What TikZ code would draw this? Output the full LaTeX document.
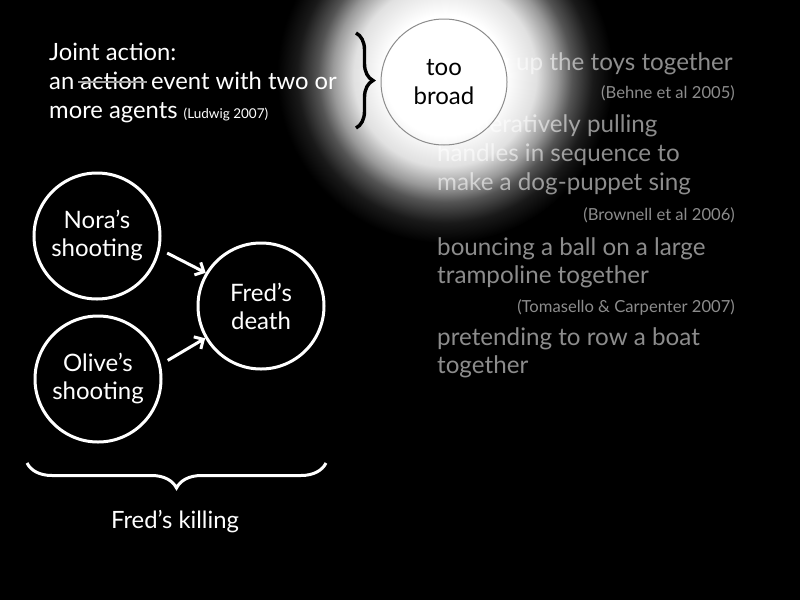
\documentclass[tikz,border=0pt]{standalone}
\usepackage{fontspec}
\setmainfont{Lato}
\usetikzlibrary{decorations.pathreplacing,arrows.meta}
\definecolor{dimtext}{gray}{0.55}
\definecolor{strikegray}{gray}{0.62}
\definecolor{ringgray}{gray}{0.55}
% soft white spotlight: flat core, smooth fall-off to black at the rim
\pgfdeclareradialshading{spot}{\pgfpointorigin}{rgb(0bp)=(1,1,1); rgb(9bp)=(1,1,1); rgb(13.6bp)=(0.88,0.88,0.88); rgb(16.7bp)=(0.6,0.6,0.6); rgb(18.9bp)=(0.33,0.33,0.33); rgb(22bp)=(0.1,0.1,0.1); rgb(25bp)=(0,0,0); rgb(50bp)=(0,0,0)}
% word with a grey line struck through it
\newcommand\struck[1]{\setbox0\hbox{#1}\copy0\llap{\textcolor{strikegray}{\rule[0.27em]{\dimexpr\wd0+4pt\relax}{2pt}\kern-2pt}}}
\begin{document}
\begin{tikzpicture}[x=1pt,y=-1pt,
  big/.style={font=\fontsize{24.2}{29}\selectfont},
  small/.style={font=\fontsize{16.6}{18}\selectfont},
  txt/.style={font=\fontsize{23.8}{29}\selectfont, text=white, anchor=base west, inner sep=0pt},
  dim/.style={big, text=dimtext, anchor=base west, inner sep=0pt},
  ref/.style={small, text=dimtext, anchor=base east, inner sep=0pt},
  ring/.style={circle, draw=white, line width=3pt, minimum size=126pt, inner sep=0pt,
    text=white, align=center, font=\fontsize{24}{28}\selectfont},
  arr/.style={draw=white, line width=3pt, -{Straight Barb[length=7pt,width=14pt]}},
  bracewhite/.style={draw=white, line width=3pt, decorate,
    decoration={brace, amplitude=25pt, aspect=0.5}},
  braceblack/.style={draw=black, line width=3.4pt, decorate,
    decoration={brace, amplitude=17pt, aspect=0.5}}]
\useasboundingbox (0,0) rectangle (800,600);
\fill[black] (0,0) rectangle (800,600);

% definition on the left
\node[txt] (def1) at (49,60) {Joint action:};
\node[txt] (def2) at (49,89) {an \struck{action} event with two or};
\node[txt] (def3) at (49,118) {more agents {\fontsize{13.5}{14}\selectfont (Ludwig 2007)}};

% examples on the right
\node[dim] (ex1) at (437,70) {tidying up the toys together};
\node[ref] (r1) at (735,98) {(Behne et al 2005)};
\node[dim] (ex2a) at (437,132) {cooperatively pulling};
\node[dim] (ex2b) at (437,161) {handles in sequence to};
\node[dim] (ex2c) at (437,190) {make a dog-puppet sing};
\node[ref] (r2) at (735,220) {(Brownell et al 2006)};
\node[dim] (ex3a) at (437,255) {bouncing a ball on a large};
\node[dim] (ex3b) at (437,283) {trampoline together};
\node[ref] (r3) at (735,312) {(Tomasello \& Carpenter 2007)};
\node[dim] (ex4a) at (437,345) {pretending to row a boat};
\node[dim] (ex4b) at (437,373) {together};

% spotlight, lightening whatever lies under it
\shade[shading=spot, blend mode=screen] (445,75) circle (168);

% verdict on the definition
\node[circle, draw=ringgray, line width=1pt, minimum size=126pt, inner sep=0pt,
  align=center, text=black, font=\fontsize{24}{29}\selectfont] (broad) at (444,82) {too\\broad};
\coordinate (bt) at (356,33);
\coordinate (bb) at (356,128);
\draw[braceblack] (bt) -- (bb);

% the killing as a structure of events
\node[ring] (nora) at (97,236) {Nora’s\\shooting};
\node[ring] (olive) at (98,379) {Olive’s\\shooting};
\node[ring] (fred) at (261,306) {Fred’s\\death};
\draw[arr, shorten <=8pt] (nora.-12) -- (fred.149);
\draw[arr, shorten <=8pt] (olive.13) -- (fred.210);

\coordinate (kr) at (326,463);
\coordinate (kl) at (27,463);
\draw[bracewhite] (kr) -- (kl);
\node[txt, anchor=base] (kill) at (175,528) {Fred’s killing};
\end{tikzpicture}
\end{document}
